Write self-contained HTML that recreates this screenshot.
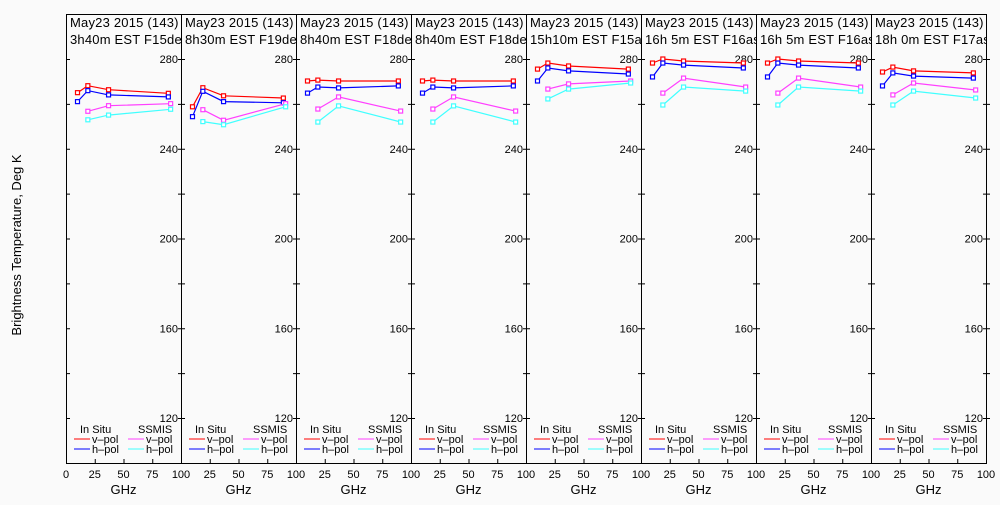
<!DOCTYPE html>
<html><head><meta charset="utf-8"><style>
body{margin:0;background:#fafafa;}
svg text{font-family:"Liberation Sans",sans-serif;fill:#000;}
</style></head><body>
<svg id="chart" width="1000" height="500" viewBox="0 0 1000 500" xmlns="http://www.w3.org/2000/svg"></svg>
<script>
const panelTitles = [
 ["May23 2015 (143)","3h40m EST F15des"],
 ["May23 2015 (143)","8h30m EST F19des"],
 ["May23 2015 (143)","8h40m EST F18des"],
 ["May23 2015 (143)","8h40m EST F18des"],
 ["May23 2015 (143)","15h10m EST F15asc"],
 ["May23 2015 (143)","16h 5m EST F16asc"],
 ["May23 2015 (143)","16h 5m EST F16asc"],
 ["May23 2015 (143)","18h 0m EST F17asc"]
];
const insituFreq = [10,19,37,89];
const ssmisFreq = [19,37,91];
const insituV = [
 [265.0,268.1,266.3,264.7],[258.7,267.2,263.6,262.6],[270.2,270.6,270.2,270.2],[270.2,270.6,270.2,270.2],
 [275.5,278.2,276.9,275.5],[278.2,280.0,279.1,278.2],[278.2,280.0,279.1,278.2],[274.2,276.4,274.7,273.8]];
const insituH = [
 [261.0,265.9,264.0,263.1],[254.3,265.6,261.0,260.5],[264.8,267.5,267.1,268.0],[264.8,267.5,267.1,268.0],
 [270.2,276.0,274.7,273.3],[272.0,278.2,277.3,276.0],[272.0,278.2,277.3,276.0],[268.0,273.8,272.4,271.5]];
const ssmisV = [
 [256.7,259.2,260.1],[257.4,252.7,260.1],[257.7,263.1,256.8],[257.7,263.1,256.8],
 [266.6,268.9,270.2],[264.8,271.5,267.5],[264.8,271.5,267.5],[264.0,269.3,266.2]];
const ssmisH = [
 [252.9,255.0,257.6],[252.1,250.7,258.7],[251.9,259.1,251.9],[251.9,259.1,251.9],
 [262.2,266.6,269.3],[259.5,267.5,265.7],[259.5,267.5,265.7],[259.5,265.7,262.6]];
const yTicks = [120,140,160,180,200,220,240,260,280];
const yLabels = [120,160,200,240,280];
const xTicks = [0,25,50,75,100];

const NS="http://www.w3.org/2000/svg";
const svg=document.getElementById('chart');
function mk(tag,attrs,parent){const e=document.createElementNS(NS,tag);for(const k in attrs)e.setAttribute(k,attrs[k]);(parent||svg).appendChild(e);return e;}
const X0=66,PW=115,TOP=14,BOT=463;
function yS(t){return 59+(280-t)*(418-59)/160;}
function xS(p,f){return X0+p*PW+f*PW/100;}

const yt=mk('text',{x:21,y:245,'font-size':13,'text-anchor':'middle',transform:'rotate(-90 21 245)'});


yt.textContent='Brightness Temperature, Deg K';

const defs=mk('defs',{});
for(let p=0;p<8;p++){
  const left=X0+p*PW, right=left+PW;
  const g=mk('g',{});
  
  
  const cp=mk('clipPath',{id:'cp'+p},defs);
  mk('rect',{x:left+1,y:0,width:PW-1,height:500},cp);
  const fr=mk('rect',{x:left+0.5,y:TOP+0.5,width:PW,height:BOT-TOP,fill:'none',stroke:'#000','stroke-width':1},g);
  
  
  const hg=mk('g',{'clip-path':'url(#cp'+p+')'},g);
  panelTitles[p].forEach((s,i)=>{
    const t=mk('text',{x:left+4,y:27+i*17,'font-size':13,'letter-spacing':'0.2'},hg);
    
    
    t.textContent=s;
  });
  yTicks.forEach(v=>{
    mk('line',{x1:right-3,x2:right+4,y1:yS(v)+0.5,y2:yS(v)+0.5,stroke:'#000'},g);
    if(p==0) mk('line',{x1:left,x2:left+4,y1:yS(v)+0.5,y2:yS(v)+0.5,stroke:'#000'},g);
  });
  yLabels.forEach(v=>{
    const t=mk('text',{x:right-3,y:yS(v)+4,'font-size':11,'text-anchor':'end'},g);
    
    
    t.textContent=v;
  });
  xTicks.forEach(v=>{
    if(p>0&&v==0)return;
    const x=xS(p,v);
    mk('line',{x1:x+0.5,x2:x+0.5,y1:BOT-4,y2:BOT,stroke:'#000'},g);
    const t=mk('text',{x:x,y:478,'font-size':11,'text-anchor':'middle'},g);
    
    
    t.textContent=v;
  });
  const xl=mk('text',{x:left+PW/2,y:494,'font-size':13,'text-anchor':'middle'},g);
  
  
  xl.textContent='GHz';
  const series=[[insituFreq,insituV[p],'#ff0000','insitu-vpol'],[insituFreq,insituH[p],'#0000ff','insitu-hpol'],
                [ssmisFreq,ssmisV[p],'#ff40ff','ssmis-vpol'],[ssmisFreq,ssmisH[p],'#40ffff','ssmis-hpol']];
  series.forEach(([fs,vs,c,n])=>{
    const pts=fs.map((f,i)=>xS(p,f).toFixed(1)+','+yS(vs[i]).toFixed(1)).join(' ');
    const l=mk('polyline',{points:pts,fill:'none',stroke:c,'stroke-width':1.2},g);
    
    
    fs.forEach((f,i)=>{
      const m=mk('rect',{x:xS(p,f)-2,y:yS(vs[i])-2,width:4,height:4,fill:'#fff',stroke:c,'stroke-width':1.2},g);
      
      
    });
  });
  const lg=mk('g',{},g);
  
  
  [['In Situ',left+14],['SSMIS',left+72]].forEach(([s,x])=>{
    const t=mk('text',{x:x,y:433,'font-size':11},lg);
    
    
    t.textContent=s;
  });
  [['#ff0000','v\u2013pol',left+8,443],['#0000ff','h\u2013pol',left+8,453],['#ff40ff','v\u2013pol',left+62,443],['#40ffff','h\u2013pol',left+62,453]].forEach(([c,s,x,y])=>{
    mk('line',{x1:x,x2:x+16,y1:y-4,y2:y-4,stroke:c},lg);
    const t=mk('text',{x:x+18,y:y,'font-size':11},lg);
    
    
    t.textContent=s;
  });
}
</script>
</body></html>
